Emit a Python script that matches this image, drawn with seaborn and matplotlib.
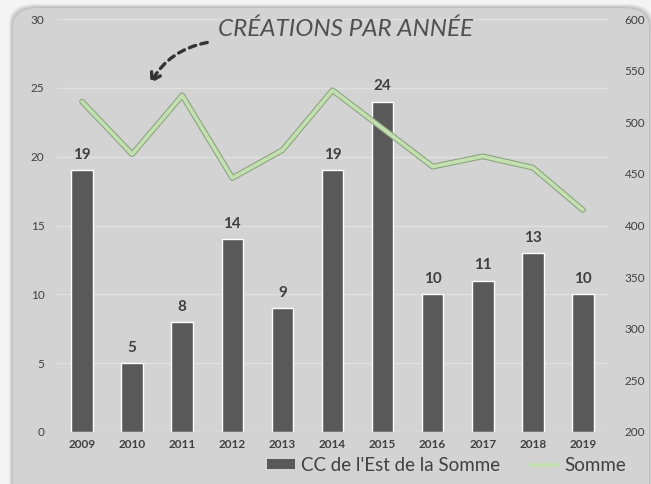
import matplotlib
matplotlib.use("Agg")
import matplotlib.pyplot as plt
import seaborn as sns
import pandas as pd
import numpy as np
from matplotlib.patches import FancyBboxPatch, Patch
from matplotlib.lines import Line2D
import matplotlib.patheffects as pe

# ---- data ----
years = ["2009", "2010", "2011", "2012", "2013", "2014", "2015", "2016", "2017", "2018", "2019"]
cc_values = [19, 5, 8, 14, 9, 19, 24, 10, 11, 13, 10]
somme_values = [520, 469, 526, 446, 473, 531, 494, 457, 467, 456, 415]
left_ticks = [0, 5, 10, 15, 20, 25, 30]
right_ticks = [200, 250, 300, 350, 400, 450, 500, 550, 600]
title_text = "CRÉATIONS PAR ANNÉE"
bar_label = "CC de l'Est de la Somme"
line_label = "Somme"

sns.set_theme(style="white")
plt.rcParams["font.family"] = ["Lato", "DejaVu Sans"]

W, H = 651, 484
fig = plt.figure(figsize=(W / 100, H / 100), dpi=100)
fig.patch.set_facecolor("#f4f4f4")

# panel with soft shadow
for i, a in enumerate([0.05, 0.05, 0.06, 0.07]):
    g = 4 - i
    sh = FancyBboxPatch(((13 - g) / W, -0.05), (636 + 2 * g) / W, (H - 8 + g) / H + 0.05,
                        boxstyle="round,pad=0,rounding_size=0.04", transform=fig.transFigure,
                        facecolor="#000000", edgecolor="none", alpha=a, zorder=-10)
    fig.patches.append(sh)
panel = FancyBboxPatch((13 / W, -0.05), 636 / W, (H - 8) / H + 0.05,
                       boxstyle="round,pad=0,rounding_size=0.04", transform=fig.transFigure,
                       facecolor="#d3d3d3", edgecolor="none", zorder=-5)
fig.patches.append(panel)

ax = fig.add_axes([57 / W, (H - 432) / H, (608 - 57) / W, (432 - 19) / H])
ax.set_facecolor("none")

df = pd.DataFrame({"year": years, "cc": cc_values, "somme": somme_values})

sns.barplot(data=df, x="year", y="cc", color="#595959", saturation=1, width=0.43, ax=ax, zorder=3)
ax.set_ylim(0, 30)
ax.set_yticks(left_ticks)
ax.set_xlim(-0.5, len(years) - 0.5)
ax.grid(axis="y", color="#e0e0e0", linewidth=1, zorder=0)
ax.set_axisbelow(True)
for s in ax.spines.values():
    s.set_visible(False)
ax.set_xlabel("")
ax.set_ylabel("")
ax.tick_params(axis="both", length=0)
ax.tick_params(axis="y", pad=9, labelsize=8.5, labelcolor="#404040")
ax.tick_params(axis="x", pad=5, labelsize=8.5, labelcolor="#404040")
for t in ax.get_xticklabels():
    t.set_fontweight("bold")

for c in ax.containers:
    ax.bar_label(c, labels=[str(v) for v in cc_values], padding=6, fontsize=11,
                 fontweight="bold", color="#404040")

ax2 = ax.twinx()
sns.lineplot(data=df, x="year", y="somme", ax=ax2, color="#c3e0b0", linewidth=2.6, zorder=4,
             path_effects=[pe.Stroke(linewidth=4.2, foreground="#8ea483"), pe.Normal()])
ax2.set_ylim(200, 600)
ax2.set_yticks(right_ticks)
for s in ax2.spines.values():
    s.set_visible(False)
ax2.set_ylabel("")
ax2.tick_params(axis="y", length=0, pad=12, labelsize=8.5, labelcolor="#404040")
ax2.grid(False)
ax.set_xlim(-0.5, len(years) - 0.5)

# title and arrow
fig.text(346 / W, 1 - 29 / H, title_text, ha="center", va="center", fontsize=17.5,
         fontstyle="italic", color="#505050")
ax.annotate("", xy=(149, H - 86), xycoords="figure pixels",
            xytext=(210, H - 42), textcoords="figure pixels",
            arrowprops=dict(arrowstyle="->,head_length=0.5,head_width=0.3", color="#333333",
                            lw=2.4, linestyle=(0, (2, 1.6)),
                            connectionstyle="arc3,rad=0.25"))

handles = [Patch(facecolor="#595959", edgecolor="none"),
           Line2D([0], [0], color="#c3e0b0", linewidth=2.6)]
fig.legend(handles, [bar_label, line_label], loc="lower right",
           bbox_to_anchor=(636 / W, 0.0), ncol=2, frameon=False, fontsize=13.5,
           handlelength=1.5, handleheight=0.45, handletextpad=0.3, columnspacing=1.6,
           borderpad=0.05, labelcolor="#404040")

fig.savefig("out.png", dpi=100, facecolor=fig.get_facecolor())
